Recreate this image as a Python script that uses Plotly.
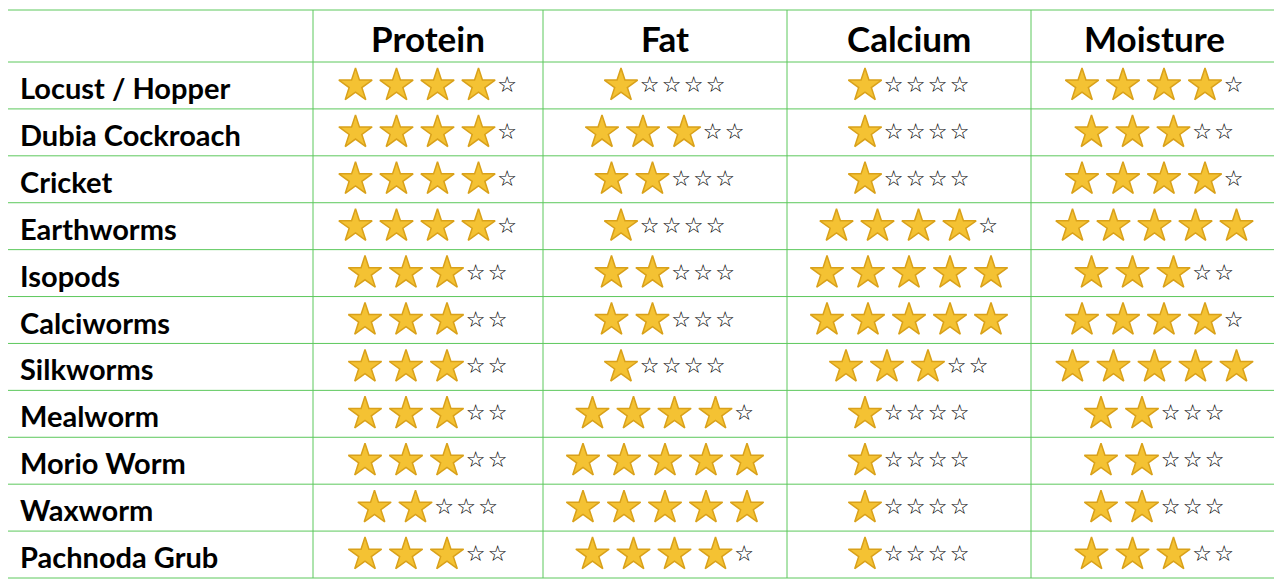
import plotly.graph_objects as go

foods = ["Locust / Hopper", "Dubia Cockroach", "Cricket", "Earthworms", "Isopods",
         "Calciworms", "Silkworms", "Mealworm", "Morio Worm", "Waxworm", "Pachnoda Grub"]
columns = ["Protein", "Fat", "Calcium", "Moisture"]
protein = [4, 4, 4, 4, 3, 3, 3, 3, 3, 2, 3]
fat = [1, 3, 2, 1, 2, 2, 1, 4, 5, 5, 4]
calcium = [1, 1, 1, 4, 5, 5, 3, 1, 1, 1, 1]
moisture = [4, 3, 4, 5, 3, 4, 5, 2, 2, 2, 3]
ratings = [protein, fat, calcium, moisture]

W, H = 1282, 586
OFF = 8  # page body margin
xb = [6, 313, 543, 787, 1031, 1278]
top, head_bot, bot = 10, 62, 578
rh = (bot - head_bot) / len(foods)
yb = [top, head_bot] + [head_bot + rh * (i + 1) for i in range(len(foods))]

fig = go.Figure()
shapes = []
for x in xb:
    shapes.append(dict(type="line", x0=x, x1=x, y0=top, y1=bot, line=dict(color="#5CC85C", width=1)))
for y in yb:
    shapes.append(dict(type="line", x0=xb[0], x1=xb[-1], y0=y, y1=y, line=dict(color="#5CC85C", width=1)))

fx, fy, hx, hy = [], [], [], []
FS, HS = 41, 22
for c, vals in enumerate(ratings):
    cx = (xb[c + 1] + xb[c + 2]) / 2
    for r, n in enumerate(vals):
        cy = head_bot + rh * (r + 0.5)
        width = n * FS + (5 - n) * HS
        x = cx - width / 2
        for i in range(n):
            fx.append(x + FS / 2); fy.append(cy); x += FS
        for i in range(5 - n):
            hx.append(x + HS / 2 - 3); hy.append(cy + 1); x += HS

fig.add_trace(go.Scatter(x=fx, y=fy, mode="markers", hoverinfo="skip",
    marker=dict(symbol="star", size=25, color="#F4C233", line=dict(color="#D9A11A", width=1.5))))
fig.add_trace(go.Scatter(x=hx, y=hy, mode="text", text=["☆"] * len(hx), hoverinfo="skip",
    textfont=dict(size=22, color="black", family="DejaVu Sans")))

ann = []
for c, name in enumerate(columns):
    ann.append(dict(x=(xb[c + 1] + xb[c + 2]) / 2, y=(top + head_bot) / 2 + 2, text="<b>%s</b>" % name,
                    showarrow=False, font=dict(size=35, family="Lato", color="black")))
for r, name in enumerate(foods):
    ann.append(dict(x=18, y=head_bot + rh * (r + 0.5) + 2, text="<b>%s</b>" % name, xanchor="left",
                    showarrow=False, font=dict(size=29, family="Lato", color="black")))

fig.update_layout(width=W, height=H, margin=dict(l=0, r=0, t=0, b=0),
    plot_bgcolor="white", paper_bgcolor="white", showlegend=False, shapes=shapes, annotations=ann,
    xaxis=dict(range=[OFF, W + OFF], visible=False, fixedrange=True),
    yaxis=dict(range=[H + OFF, OFF], visible=False, fixedrange=True))
fig.write_html("out.html", config={"displayModeBar": False})
